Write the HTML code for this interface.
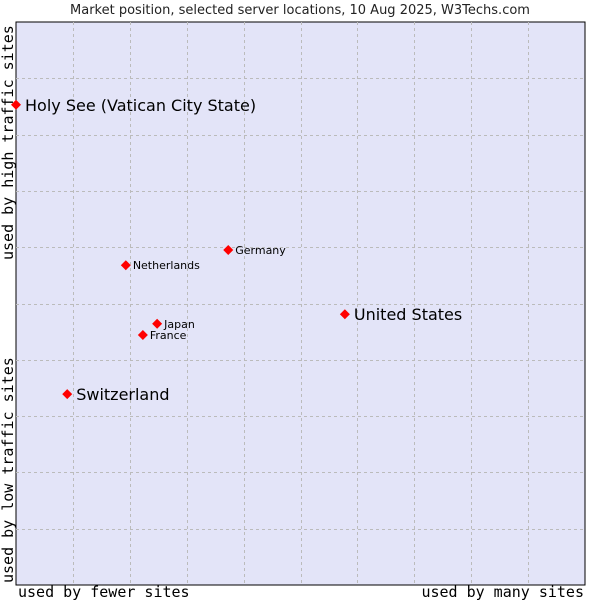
<!DOCTYPE html>
<html><head><meta charset="utf-8"><style>
body{margin:0;background:#fff;}
svg text{font-family:"DejaVu Sans","Liberation Sans",sans-serif;}
.mono{font-family:"DejaVu Sans Mono","Liberation Mono",monospace !important;}
</style></head><body>
<svg id="chart" width="600" height="600">
<text x="300" y="14" text-anchor="middle" font-size="13" fill="#222">Market position, selected server locations, 10 Aug 2025, W3Techs.com</text>
<rect x="16" y="22" width="569" height="563" fill="#e3e4f8" stroke="#000" stroke-width="1"/>
<g id="grid"></g>
<g id="points"></g>
<text class="mono" x="18" y="597" font-size="15" fill="#000">used by fewer sites</text>
<text class="mono" x="584" y="597" font-size="15" text-anchor="end" fill="#000">used by many sites</text>
<text class="mono" transform="translate(13,583) rotate(-90)" font-size="15" fill="#000">used by low traffic sites</text>
<text class="mono" transform="translate(13,260) rotate(-90)" font-size="15" fill="#000">used by high traffic sites</text>
</svg>
<script>
const names=["Holy See (Vatican City State)","Switzerland","United States","Germany","Netherlands","Japan","France"];
const xVals=[0,9,57.8,37.3,19.3,24.8,22.3];
const yVals=[85.3,33.9,48.1,59.5,56.8,46.4,44.4];
const large=[true,true,true,false,false,false,false];
const L=16,T=22,W=569,H=563;
const sx=v=>L+v/100*W, sy=v=>T+H-v/100*H;
const ns="http://www.w3.org/2000/svg";
const grid=document.getElementById('grid');
for(let i=1;i<10;i++){
  const l=document.createElementNS(ns,'line');
  
  
  const x=Math.round(sx(i*10))+0.5;
  l.setAttribute('x1',x);l.setAttribute('x2',x);l.setAttribute('y1',T);l.setAttribute('y2',T+H);
  l.setAttribute('stroke','#bbb');l.setAttribute('stroke-dasharray','3,3');
  grid.appendChild(l);
  const h=document.createElementNS(ns,'line');
  
  
  const y=Math.round(sy(i*10))+0.5;
  h.setAttribute('x1',L);h.setAttribute('x2',L+W);h.setAttribute('y1',y);h.setAttribute('y2',y);
  h.setAttribute('stroke','#bbb');h.setAttribute('stroke-dasharray','3,3');
  grid.appendChild(h);
}
const pts=document.getElementById('points');
names.forEach((n,i)=>{
  const x=sx(xVals[i]),y=sy(yVals[i]);
  const d=document.createElementNS(ns,'polygon');
  
  
  d.setAttribute('points',`${x},${y-5} ${x+5},${y} ${x},${y+5} ${x-5},${y}`);
  d.setAttribute('fill','#f00');
  pts.appendChild(d);
  const t=document.createElementNS(ns,'text');
  
  
  t.setAttribute('x',x+(large[i]?9:7));
  t.setAttribute('y',y+(large[i]?6:4));
  t.setAttribute('font-size',large[i]?16:11);
  t.setAttribute('fill','#000');
  t.textContent=n;
  pts.appendChild(t);
});
</script>
</body></html>
